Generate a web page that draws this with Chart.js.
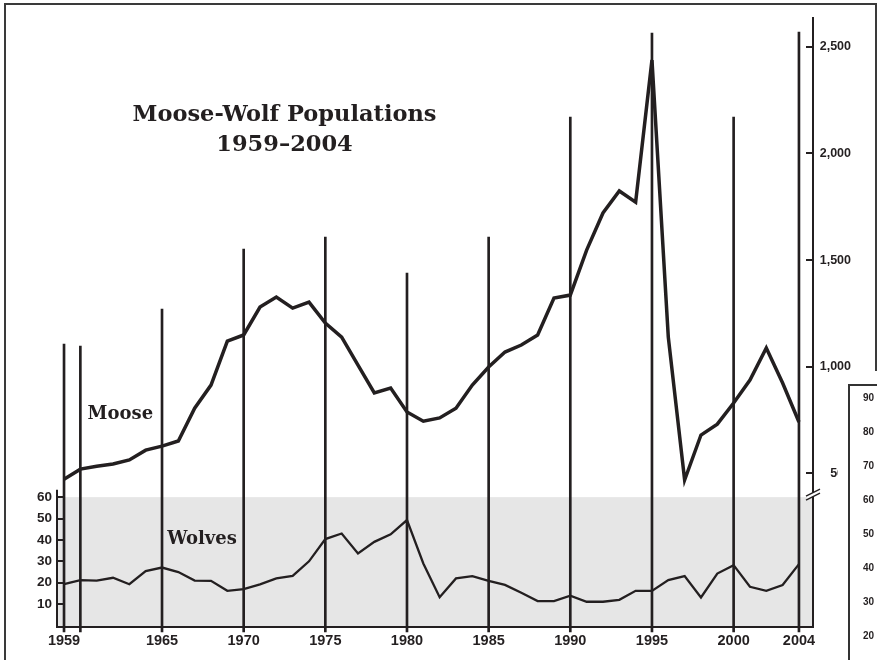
<!DOCTYPE html>
<html><head><meta charset="utf-8">
<script src="https://cdn.jsdelivr.net/npm/chart.js@4.4.1/dist/chart.umd.min.js"></script>
<style>html,body{margin:0;padding:0;background:#fff;}#wrap{width:877px;height:660px;position:relative;}canvas{display:block;}</style>
</head><body><div id="wrap"><canvas id="c" width="877" height="660"></canvas></div>
<script>
const years = [1959,1960,1961,1962,1963,1964,1965,1966,1967,1968,1969,1970,1971,1972,1973,1974,1975,1976,1977,1978,1979,1980,1981,1982,1983,1984,1985,1986,1987,1988,1989,1990,1991,1992,1993,1994,1995,1996,1997,1998,1999,2000,2001,2002,2003,2004];
const mooseValues = [473,520,534,544,563,609,628,652,806,914,1120,1149,1280,1327,1275,1303,1205,1139,1008,877,900,788,745,760,806,914,999,1069,1102,1149,1322,1336,1547,1721,1824,1772,2438,1139,469,680,731,830,938,1088,924,741];
const wolfValues = [19.3,21.2,21,22.3,19.3,25.4,27.1,25,21,20.9,16.2,17,19.2,22,23.2,30,40.4,43,33.7,39.1,42.6,49.3,29,13.2,22,23.1,20.9,19,15.3,11.4,11.4,13.9,11.1,11.1,12,16.2,16.2,21.2,23.1,13.1,24.3,28.2,18.1,16.2,18.9,28.7];
const eventYears = [1959,1960,1965,1970,1975,1980,1985,1990,1995,2000,2004];
const eventLineTops = [1106,1097,1270,1552,1608,1439,1608,2171,2564,2171,2569];
const yearTickLabels = [1959,1965,1970,1975,1980,1985,1990,1995,2000,2004];
const wolfTicks = [10,20,30,40,50,60];
const mooseTicks = [500,1000,1500,2000,2500];
const insetTickLabels = ['90','80','70','60','50','40','30','20','10'];
const titleLines = ['Moose-Wolf Populations','1959\u20132004'];
const seriesNames = ['Moose','Wolves'];

const INK = '#231f20';
const SANS = '"Liberation Sans Narrow","Liberation Sans",Arial,sans-serif';
const SERIF = '"DejaVu Serif",serif';
const LINE_BASE = -243;

const decor = {
  id:'decor',
  beforeDraw(chart){
    const {ctx, chartArea:a, scales} = chart;
    const yW = scales.yW;
    ctx.save();
    ctx.fillStyle = '#e6e6e6';
    const top = yW.getPixelForValue(60);
    ctx.fillRect(a.left, top, a.right - a.left, a.bottom - top);
    ctx.restore();
  },
  afterDraw(chart){
    const {ctx, chartArea:a, scales} = chart;
    const {x, yW, yM} = scales;
    ctx.save();
    ctx.strokeStyle = INK; ctx.lineWidth = 2;
    ctx.beginPath();
    ctx.moveTo(a.left, yW.getPixelForValue(63.5));
    ctx.lineTo(a.left, a.bottom + 1);
    ctx.stroke();
    wolfTicks.forEach(v=>{
      const y = Math.round(yW.getPixelForValue(v));
      ctx.beginPath(); ctx.moveTo(a.left, y); ctx.lineTo(a.left + 6, y); ctx.stroke();
    });
    mooseTicks.forEach(v=>{
      const y = Math.round(yM.getPixelForValue(v));
      ctx.beginPath(); ctx.moveTo(a.right - 7, y); ctx.lineTo(a.right, y); ctx.stroke();
    });
    const by = yM.getPixelForValue(410);
    const bx = a.right;
    ctx.fillStyle = '#fff';
    ctx.beginPath();
    ctx.moveTo(bx-6, by+3); ctx.lineTo(bx+6, by-3); ctx.lineTo(bx+6, by+1); ctx.lineTo(bx-6, by+7); ctx.closePath();
    ctx.fill();
    ctx.lineWidth = 1.3;
    ctx.beginPath(); ctx.moveTo(bx-7, by+3.5); ctx.lineTo(bx+7, by-3.5); ctx.stroke();
    ctx.beginPath(); ctx.moveTo(bx-7, by+7.5); ctx.lineTo(bx+7, by+0.5); ctx.stroke();
    ctx.fillStyle = INK;
    ctx.textAlign = 'center'; ctx.textBaseline = 'middle';
    ctx.font = 'bold 22.5px ' + SERIF;
    ctx.fillText(titleLines[0], x.getPixelForValue(1972.5), yM.getPixelForValue(2180));
    ctx.fillText(titleLines[1], x.getPixelForValue(1972.5), yM.getPixelForValue(2040));
    ctx.font = 'bold 18px ' + SERIF;
    ctx.fillText(seriesNames[0], x.getPixelForValue(1962.45), yM.getPixelForValue(778));
    ctx.fillText(seriesNames[1], x.getPixelForValue(1967.45), yW.getPixelForValue(40.3));
    ctx.strokeStyle = '#3a3a3a'; ctx.lineWidth = 2;
    ctx.beginPath();
    ctx.moveTo(5, 662); ctx.lineTo(5, 4); ctx.lineTo(876, 4); ctx.lineTo(876, 385);
    ctx.stroke();
    // overlapping fragment of a neighbouring figure (white margin + boxed axis labels)
    ctx.fillStyle = '#fff';
    ctx.fillRect(838, 371, 50, 300);
    ctx.strokeStyle = '#333'; ctx.lineWidth = 2;
    ctx.beginPath(); ctx.moveTo(849, 670); ctx.lineTo(849, 385); ctx.lineTo(880, 385); ctx.stroke();
    ctx.fillStyle = INK; ctx.textAlign = 'left'; ctx.textBaseline = 'middle';
    ctx.font = 'bold 10px ' + SANS;
    insetTickLabels.forEach((t,i)=>{ ctx.fillText(t, 863, 398 + i*34); });
    ctx.restore();
  }
};

new Chart(document.getElementById('c'), {
  data: {
    datasets: [
      { type:'line', label:'Moose', yAxisID:'yM', xAxisID:'x', order:1,
        data: years.map((yr,i)=>({x:yr, y:mooseValues[i]})),
        borderColor: INK, borderWidth: 3.5, pointRadius: 0, tension: 0, fill:false, borderJoinStyle:'miter' },
      { type:'line', label:'Wolves', yAxisID:'yW', xAxisID:'x', order:2,
        data: years.map((yr,i)=>({x:yr, y:wolfValues[i]})),
        borderColor: INK, borderWidth: 2.3, pointRadius: 0, tension: 0, fill:false },
      { type:'bar', label:'Years', yAxisID:'yM', xAxisID:'x', order:3, clip:false,
        data: eventYears.map((yr,i)=>({x:yr, y:[LINE_BASE, eventLineTops[i]]})),
        backgroundColor: INK, borderWidth:0, barThickness: 2 }
    ]
  },
  options: {
    responsive:false, animation:false, devicePixelRatio:1,
    layout:{ padding:{ top:18, left:0, right:26, bottom:0 } },
    plugins:{ legend:{display:false}, tooltip:{enabled:false}, title:{display:false} },
    scales:{
      x:{ type:'linear', position:'bottom', min:1958.57, max:2004.86, offset:false,
        grid:{display:false, drawTicks:false, offset:false}, border:{display:true, color:INK, width:2},
        afterBuildTicks: s=>{ s.ticks = yearTickLabels.map(v=>({value:v})); },
        afterFit: s=>{ s.height = 33; },
        ticks:{ autoSkip:false, maxRotation:0, padding:5, color:INK, font:{family:SANS, size:14.5, weight:'bold'}, callback: v=>String(v) } },
      yW:{ type:'linear', position:'left', min:-0.7, max:284,
        grid:{display:false, drawTicks:false}, border:{display:false},
        afterBuildTicks: s=>{ s.ticks = wolfTicks.map(v=>({value:v})); },
        afterFit: s=>{ s.width = 57; },
        ticks:{ padding:5, color:INK, font:{family:SANS, size:13.5, weight:'bold'}, callback: v=>String(v) } },
      yM:{ type:'linear', position:'right', min:-220, max:2635,
        grid:{display:false, drawTicks:false}, border:{display:true, color:INK, width:2},
        afterBuildTicks: s=>{ s.ticks = mooseTicks.map(v=>({value:v})); },
        afterFit: s=>{ s.width = 38; },
        ticks:{ padding:8, crossAlign:'far', color:INK, font:{family:SANS, size:12.5, weight:'bold'}, callback: v=>v.toLocaleString('en-US') } }
    }
  },
  plugins:[decor]
});
</script></body></html>
